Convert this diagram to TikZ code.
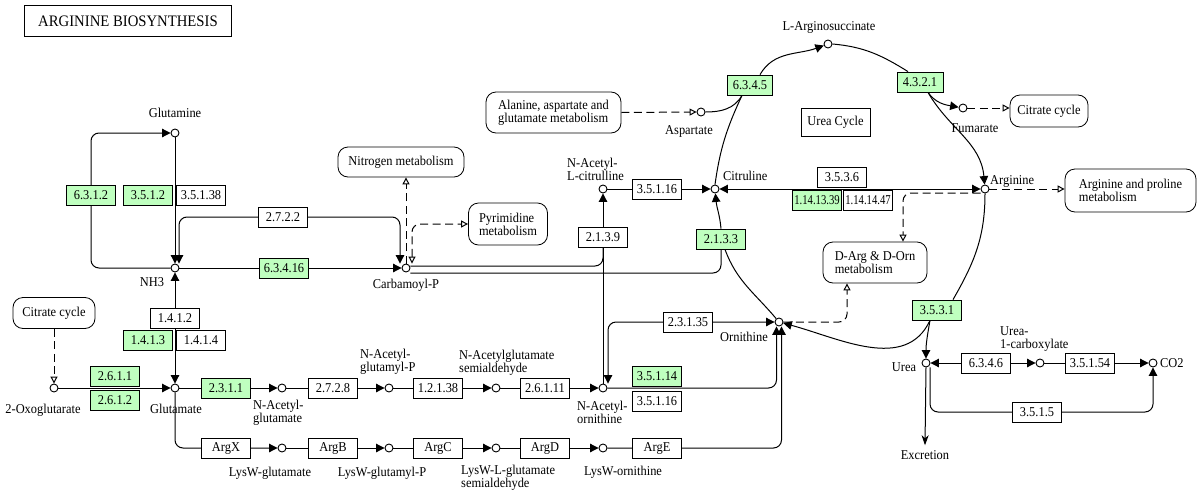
\documentclass[tikz,border=0pt]{standalone}
\usepackage{fontspec}
\setmainfont{Liberation Serif}[FakeStretch=0.92]
\usetikzlibrary{arrows.meta}
\pgfdeclarelayer{bg}
\pgfsetlayers{bg,main}
\definecolor{kgreen}{RGB}{191,255,191}
\newcommand{\kfont}{\fontsize{13.5}{13}\selectfont}
\newcommand{\squeeze}[1]{\scalebox{0.86}[1]{#1}}
\tikzset{
  cpd/.style={circle, draw, fill=white, minimum size=8pt, inner sep=0pt, line width=0.9pt},
  enz/.style={draw, fill=white, minimum width=49pt, minimum height=20pt, inner sep=0pt, line width=0.8pt, font=\kfont},
  genz/.style={enz, fill=kgreen},
  mapbox/.style={draw, fill=white, rounded corners=10pt, inner sep=0pt, line width=0.8pt, font=\kfont, align=left},
  lbl/.style={font=\kfont, inner sep=0pt, align=left},
  ln/.style={line width=1pt},
  arr/.style={ln, -{Triangle[length=8.5pt,width=8.5pt]}},
  arrboth/.style={ln, {Triangle[length=8.5pt,width=8.5pt]}-{Triangle[length=8.5pt,width=8.5pt]}},
  darr/.style={ln, dash pattern=on 8pt off 4.5pt, -{Triangle[open,length=7pt,width=7pt]}},
  darrboth/.style={ln, dash pattern=on 8pt off 4.5pt, {Triangle[open,length=7pt,width=7pt]}-{Triangle[open,length=7pt,width=7pt]}},
  rc/.style={rounded corners=8pt},
}
\begin{document}
\begin{tikzpicture}[x=1pt,y=1pt]
\useasboundingbox (0,0) rectangle (1197,-490);
% title
\node[draw, line width=1.6pt, minimum width=207pt, minimum height=31pt, inner sep=0pt, font=\fontsize{16}{16}\selectfont] (title) at (128,-21) {ARGININE BIOSYNTHESIS};
\node[draw, line width=0.8pt, minimum width=69pt, minimum height=28pt, inner sep=0pt, font=\kfont] (ucycle) at (835.5,-122) {Urea Cycle};

% compounds
\node[cpd] (gln) at (175,-133) {};
\node[cpd] (nh3) at (175,-268) {};
\node[cpd] (carb) at (406,-268) {};
\node[cpd] (glu) at (175,-388) {};
\node[cpd] (oxo) at (54,-388) {};
\node[cpd] (nag) at (282,-388) {};
\node[cpd] (nagp) at (389,-388) {};
\node[cpd] (nags) at (496,-388) {};
\node[cpd] (nao) at (603,-388) {};
\node[cpd] (nacit) at (603,-189) {};
\node[cpd] (cit) at (715,-189) {};
\node[cpd] (orn) at (779,-322) {};
\node[cpd] (args) at (828,-44) {};
\node[cpd] (asp) at (701,-112) {};
\node[cpd] (fum) at (963,-108) {};
\node[cpd] (arg) at (985,-189) {};
\node[cpd] (urea) at (926,-363) {};
\node[cpd] (ucarb) at (1040,-363) {};
\node[cpd] (co2) at (1153,-363) {};
\node[cpd] (lysg) at (282,-448) {};
\node[cpd] (lysgp) at (389,-448) {};
\node[cpd] (lyss) at (496,-448) {};
\node[cpd] (lyso) at (603,-448) {};

% enzymes
\node[genz] (e6312) at (91,-195) {6.3.1.2};
\node[genz] (e3512) at (148,-195) {3.5.1.2};
\node[enz] (e35138) at (201,-195) {3.5.1.38};
\node[enz] (e2722) at (283,-217) {2.7.2.2};
\node[genz] (e63416) at (284,-268) {6.3.4.16};
\node[enz] (e1412) at (175,-318) {1.4.1.2};
\node[genz] (e1413) at (148,-340) {1.4.1.3};
\node[enz] (e1414) at (201,-340) {1.4.1.4};
\node[genz] (e2611) at (115,-376) {2.6.1.1};
\node[genz] (e2612) at (115,-400) {2.6.1.2};
\node[genz] (e2311) at (226,-388) {2.3.1.1};
\node[enz] (e2728) at (333,-388) {2.7.2.8};
\node[enz] (e12138) at (438,-388) {1.2.1.38};
\node[enz] (e26111) at (545,-388) {2.6.1.11};
\node[genz] (e35114) at (657,-376) {3.5.1.14};
\node[enz] (e35116b) at (657,-401) {3.5.1.16};
\node[enz] (e23135) at (688,-322) {2.3.1.35};
\node[enz] (argx) at (226,-448) {ArgX};
\node[enz] (argb) at (333,-448) {ArgB};
\node[enz] (argc) at (438,-448) {ArgC};
\node[enz] (argd) at (545,-448) {ArgD};
\node[enz] (arge) at (657,-448) {ArgE};
\node[enz] (e2139) at (603,-237) {2.1.3.9};
\node[enz] (e35116a) at (657,-189) {3.5.1.16};
\node[genz] (e2133) at (721,-239) {2.1.3.3};
\node[genz, minimum width=45pt] (e6345) at (750,-85) {6.3.4.5};
\node[genz, minimum width=46pt] (e4321) at (920,-82) {4.3.2.1};
\node[enz] (e3536) at (842,-177) {3.5.3.6};
\node[genz] (e11413) at (817,-200) {\squeeze{1.14.13.39}};
\node[enz] (e11414) at (868,-200) {\squeeze{1.14.14.47}};
\node[genz] (e3531) at (937,-310) {3.5.3.1};
\node[enz] (e6346) at (986,-363) {6.3.4.6};
\node[enz] (e35154) at (1090,-363) {3.5.1.54};
\node[enz] (e3515) at (1037,-412) {3.5.1.5};

% maps
\node[mapbox, minimum width=82pt, minimum height=31pt] (citL) at (54,-313) {Citrate cycle};
\node[mapbox, minimum width=126pt, minimum height=30pt] (nitro) at (401,-162) {Nitrogen metabolism};
\node[mapbox, minimum width=79pt, minimum height=42pt] (pyr) at (508,-224) {Pyrimidine\\metabolism};
\node[mapbox, minimum width=135pt, minimum height=41pt] (ala) at (553.5,-112.5) {Alanine, aspartate and\\glutamate metabolism};
\node[mapbox, minimum width=78pt, minimum height=32pt] (citR) at (1049,-111) {Citrate cycle};
\node[mapbox, minimum width=131pt, minimum height=43pt] (argpro) at (1130.5,-190.5) {Arginine and proline\\metabolism};
\node[mapbox, minimum width=104pt, minimum height=41pt] (darg) at (875,-262.5) {D-Arg \& D-Orn\\metabolism};

% labels
\node[lbl] (lgln) at (175,-113) {Glutamine};
\node[lbl] (lnh3) at (152,-282) {NH3};
\node[lbl] (lcarb) at (406,-285) {Carbamoyl-P};
\node[lbl] (lglu) at (176,-409) {Glutamate};
\node[lbl] (loxo) at (43,-410) {2-Oxoglutarate};
\node[lbl, anchor=west] (lnag) at (253,-413) {N-Acetyl-\\glutamate};
\node[lbl, anchor=west] (lnagp) at (360,-362) {N-Acetyl-\\glutamyl-P};
\node[lbl, anchor=west] (lnags) at (459,-362.5) {N-Acetylglutamate\\semialdehyde};
\node[lbl, anchor=west] (lnao) at (577,-412) {N-Acetyl-\\ornithine};
\node[lbl] (llysg) at (270,-473) {LysW-glutamate};
\node[lbl] (llysgp) at (382,-473) {LysW-glutamyl-P};
\node[lbl, anchor=west] (llyss) at (461,-477.5) {LysW-L-glutamate\\semialdehyde};
\node[lbl] (llyso) at (623,-472) {LysW-ornithine};
\node[lbl, anchor=west] (lnacit) at (567,-169.5) {N-Acetyl-\\L-citrulline};
\node[lbl, anchor=west] (lcit) at (723,-176) {Citruline};
\node[lbl] (lasp) at (689,-131) {Aspartate};
\node[lbl] (largs) at (829,-27) {L-Arginosuccinate};
\node[lbl] (lfum) at (975,-128) {Fumarate};
\node[lbl, anchor=west] (larg) at (990,-181) {Arginine};
\node[lbl] (lorn) at (744,-337) {Ornithine};
\node[lbl] (lurea) at (904,-367) {Urea};
\node[lbl, anchor=west] (lucarb) at (1000,-339) {Urea-\\1-carboxylate};
\node[lbl, anchor=west] (lco2) at (1160,-363) {CO2};
\node[lbl] (excr) at (925,-455) {Excretion};

\begin{pgfonlayer}{bg}
% glutamine / NH3
\draw[arr, rc] (nh3.west) -| (e6312.center) |- (gln.west);
\draw[arr] (gln.south) -- (nh3.north);
\draw[arrboth, rc] ([xshift=4pt]nh3.north) |- (e2722.center) -| ([xshift=-6pt]carb.north);
\draw[arr] (nh3.east) -- (carb.west);
\draw[arrboth] (glu.north) -- (nh3.south);
\draw[arr] (oxo.east) -- (glu.west);
\draw[darr] (citL.south) -- (oxo.north);
% main chain
\draw[arr] (glu.east) -- (nag.west);
\draw[arr] (nag.east) -- (nagp.west);
\draw[arr] (nagp.east) -- (nags.west);
\draw[arr] (nags.east) -- (nao.west);
\draw[arr, rc] (nao.east) -| ([xshift=-2.5pt]orn.south);
% LysW branch
\draw[arr, rc] (glu.south) |- (lysg.west);
\draw[arr] (lysg.east) -- (lysgp.west);
\draw[arr] (lysgp.east) -- (lyss.west);
\draw[arr] (lyss.east) -- (lyso.west);
\draw[arr, rc] (lyso.east) -| ([xshift=2.5pt]orn.south);
% ornithine / acetyl
\draw[arrboth, rc] ([xshift=5pt]nao.north) |- (orn.west);
\draw[arr] (nao.north) -- (nacit.south);
\draw[ln, rc] ([yshift=2pt]carb.east) -| (e2139.center);
\draw[ln, rc] ([yshift=-5pt]carb.east) -| (e2133.center);
\draw[arr] (nacit.east) -- (cit.west);
\draw[arrboth] (arg.west) -- (cit.east);
% map links
\draw[darr] (arg.east) -- (argpro.west |- arg.east);
\draw[darr, rc] ([yshift=-4pt]arg.west) -| ([xshift=28pt]darg.north);
\draw[darr, rc] (orn.east) -| ([xshift=-28pt]darg.south);
\draw[darr] (carb.north) -- (carb.north |- nitro.south);
\draw[darrboth, rc] ([xshift=6pt]carb.north) |- (pyr.west);
\draw[darr] (ala.east) -- (asp.west);
\draw[darr] (fum.east) -- (fum.east -| citR.west);
% urea cycle
\draw[ln] (cit.north) to[out=82,in=245] ([xshift=-8pt]e6345.south);
\draw[ln] (asp.east) to[out=0,in=240] ([xshift=-8pt]e6345.south);
\draw[arr] ([xshift=10pt]e6345.north) to[out=60,in=200] (args);
\draw[ln] (args.east) to[out=-5,in=148] ([xshift=-12pt]e4321.north);
\draw[arr] ([xshift=8pt]e4321.south) to[out=-60,in=95] (arg);
\draw[arr] ([xshift=8pt]e4321.south) to[out=-55,in=170] (fum);
\draw[ln] (arg.south) to[out=-90,in=60] ([xshift=16pt]e3531.north);
\draw[arr] ([xshift=-7pt]e3531.south) to[out=-115,in=-15] (orn);
\draw[arr] ([xshift=-7pt]e3531.south) to[out=-100,in=90] (urea);
\draw[ln] (orn) to[out=130,in=-70] ([xshift=4pt]e2133.south);
\draw[arr] (e2133.north) to[out=95,in=-85] (cit);
% urea
\draw[arrboth] (urea.east) -- (ucarb.west);
\draw[arr] (ucarb.east) -- (co2.west);
\draw[arr, rc] ([xshift=4pt]urea.south) |- (e3515.center) -| (co2.south);
\draw[ln, -{Stealth[length=10pt,width=7pt,inset=3pt]}] (urea.south) -- ([yshift=5pt]excr.north);
\end{pgfonlayer}
\end{tikzpicture}
\end{document}
